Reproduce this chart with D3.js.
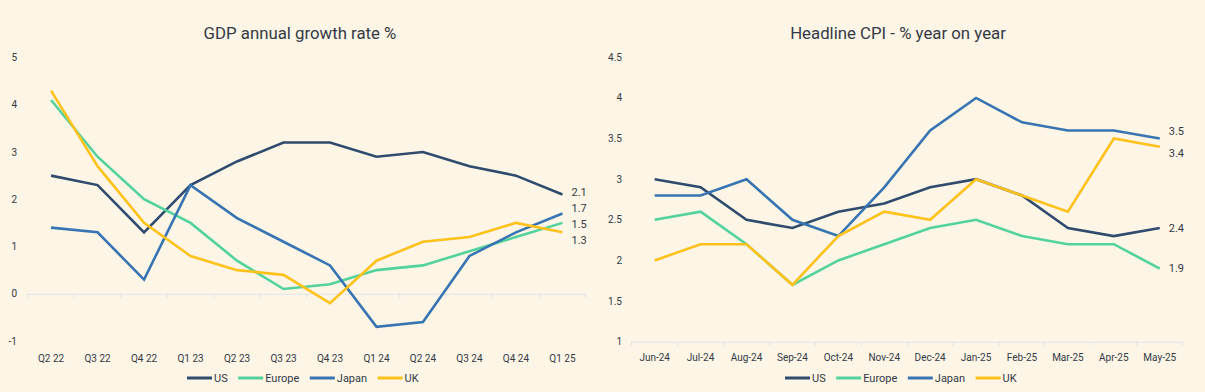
<!DOCTYPE html>
<html>
<head>
<meta charset="utf-8">
<script src="https://cdn.jsdelivr.net/npm/d3@7"></script>
<style>
  body { margin: 0; background: #fdf5e6; }
  svg { display: block; font-family: Roboto, "Noto Sans", sans-serif; }
</style>
</head>
<body>
<svg id="chart"></svg>
<script>
// ---- GDP data
const gdpQuarters = ["Q2 22", "Q3 22", "Q4 22", "Q1 23", "Q2 23", "Q3 23", "Q4 23", "Q1 24", "Q2 24", "Q3 24", "Q4 24", "Q1 25"];
const gdpUS = [2.5, 2.3, 1.3, 2.3, 2.8, 3.2, 3.2, 2.9, 3.0, 2.7, 2.5, 2.1];
const gdpEurope = [4.1, 2.9, 2.0, 1.5, 0.7, 0.1, 0.2, 0.5, 0.6, 0.9, 1.2, 1.5];
const gdpJapan = [1.4, 1.3, 0.3, 2.3, 1.6, 1.1, 0.6, -0.7, -0.6, 0.8, 1.3, 1.7];
const gdpUK = [4.3, 2.7, 1.5, 0.8, 0.5, 0.4, -0.2, 0.7, 1.1, 1.2, 1.5, 1.3];
const gdpTicks = [-1, 0, 1, 2, 3, 4, 5];

// ---- CPI data
const cpiMonths = ["Jun-24", "Jul-24", "Aug-24", "Sep-24", "Oct-24", "Nov-24", "Dec-24", "Jan-25", "Feb-25", "Mar-25", "Apr-25", "May-25"];
const cpiUS = [3.0, 2.9, 2.5, 2.4, 2.6, 2.7, 2.9, 3.0, 2.8, 2.4, 2.3, 2.4];
const cpiEurope = [2.5, 2.6, 2.2, 1.7, 2.0, 2.2, 2.4, 2.5, 2.3, 2.2, 2.2, 1.9];
const cpiJapan = [2.8, 2.8, 3.0, 2.5, 2.3, 2.9, 3.6, 4.0, 3.7, 3.6, 3.6, 3.5];
const cpiUK = [2.0, 2.2, 2.2, 1.7, 2.3, 2.6, 2.5, 3.0, 2.8, 2.6, 3.5, 3.4];
const cpiTicks = [1, 1.5, 2, 2.5, 3, 3.5, 4, 4.5];

const seriesNames = ["US", "Europe", "Japan", "UK"];
const colors = { US: "#2f4b6e", Europe: "#52d39d", Japan: "#3675b1", UK: "#ffc21c" };

const width = 1205;
const height = 392;
const textColor = "#333a45";

const svg = d3.select("#chart").attr("width", width).attr("height", height);

function drawChart(opt) {
  const g = svg.append("g");

  const x = d3.scaleBand()
    .domain(opt.categories)
    .range([opt.left, opt.right]);

  const y = d3.scaleLinear()
    .domain([opt.ticks[0], opt.ticks[opt.ticks.length - 1]])
    .range([opt.bottom, opt.top]);

  // title
  g.append("text")
    .attr("x", opt.titleX)
    .attr("y", 39)
    .attr("text-anchor", "middle")
    .style("font-size", "16.8px")
    .style("fill", textColor)
    .text(opt.title);

  // y tick labels
  g.selectAll("text.ylab")
    .data(opt.ticks)
    .enter()
    .append("text")
    .attr("class", "ylab")
    .attr("x", opt.yLabelX)
    .attr("y", (d) => y(d))
    .attr("dy", "0.35em")
    .attr("text-anchor", "end")
    .style("font-size", "10px")
    .style("fill", textColor)
    .text((d) => d);

  // x axis
  const xAxis = g.append("g")
    .attr("transform", `translate(0, ${y(opt.axisAt)})`)
    .call(d3.axisBottom(x).tickSize(0).tickPadding(opt.labelPad));
  xAxis.select(".domain").attr("stroke", "#dde4ee").attr("stroke-width", 1);
  xAxis.selectAll("text")
    .style("font-family", "Roboto, sans-serif")
    .style("font-size", "10px")
    .style("fill", textColor);

  // boundary ticks
  const bounds = opt.categories.map((c) => x(c)).concat([opt.right]);
  xAxis.selectAll("line.bound")
    .data(bounds)
    .enter()
    .append("line")
    .attr("class", "bound")
    .attr("x1", (d) => d)
    .attr("x2", (d) => d)
    .attr("y1", 0)
    .attr("y2", 4)
    .attr("stroke", "#dde4ee");

  // lines
  const line = d3.line()
    .x((d, i) => x(opt.categories[i]) + x.bandwidth() / 2)
    .y((d) => y(d));

  seriesNames.forEach((name) => {
    g.append("path")
      .datum(opt.series[name])
      .attr("fill", "none")
      .attr("stroke", colors[name])
      .attr("stroke-width", 2.6)
      .attr("stroke-linejoin", "miter")
      .attr("d", line);
  });

  // end labels with simple collision spreading
  const last = opt.categories.length - 1;
  const labels = seriesNames
    .map((name) => ({ v: opt.series[name][last], pos: y(opt.series[name][last]) }))
    .sort((a, b) => a.pos - b.pos);
  for (let iter = 0; iter < 50; iter++) {
    for (let i = 1; i < labels.length; i++) {
      const overlap = opt.gap - (labels[i].pos - labels[i - 1].pos);
      if (overlap > 0) {
        labels[i - 1].pos -= overlap / 2;
        labels[i].pos += overlap / 2;
      }
    }
  }
  g.selectAll("text.endlab")
    .data(labels)
    .enter()
    .append("text")
    .attr("class", "endlab")
    .attr("x", x(opt.categories[last]) + x.bandwidth() / 2 + 9)
    .attr("y", (d) => d.pos)
    .attr("dy", "0.35em")
    .style("font-size", "11px")
    .style("fill", textColor)
    .text((d) => d.v.toFixed(1));

  // legend
  const legend = g.append("g").attr("transform", `translate(${opt.legendX}, 378)`);
  let lx = 0;
  seriesNames.forEach((name) => {
    legend.append("line")
      .attr("x1", lx)
      .attr("x2", lx + 25)
      .attr("y1", 0)
      .attr("y2", 0)
      .attr("stroke", colors[name])
      .attr("stroke-width", 3);
    const t = legend.append("text")
      .attr("x", lx + 27)
      .attr("y", 0)
      .attr("dy", "0.35em")
      .style("font-size", "11px")
      .style("fill", textColor)
      .text(name);
    lx += 27 + t.node().getComputedTextLength() + 10.5;
  });
}

drawChart({
  title: "GDP annual growth rate %",
  categories: gdpQuarters,
  series: { US: gdpUS, Europe: gdpEurope, Japan: gdpJapan, UK: gdpUK },
  ticks: gdpTicks,
  left: 27.8,
  right: 585.7,
  top: 57.5,
  bottom: 341,
  axisAt: 0,
  labelPad: 61,
  yLabelX: 17,
  gap: 16,
  titleX: 300,
  legendX: 187
});

drawChart({
  title: "Headline CPI - % year on year",
  categories: cpiMonths,
  series: { US: cpiUS, Europe: cpiEurope, Japan: cpiJapan, UK: cpiUK },
  ticks: cpiTicks,
  left: 631.7,
  right: 1182.7,
  top: 57.3,
  bottom: 341.7,
  axisAt: 1,
  labelPad: 12,
  yLabelX: 622,
  gap: 22,
  titleX: 898,
  legendX: 785
});
</script>
</body>
</html>
